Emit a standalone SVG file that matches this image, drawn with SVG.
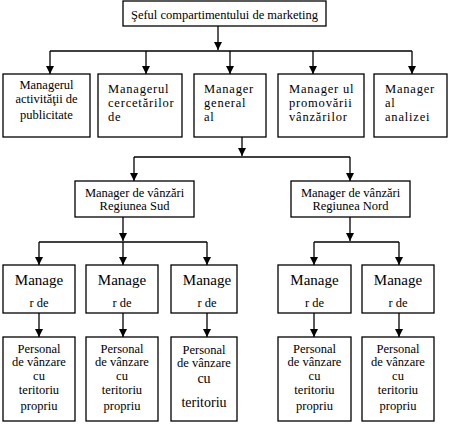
<svg xmlns="http://www.w3.org/2000/svg" width="450" height="425" viewBox="0 0 450 425">
<defs>
<marker id="ah" markerWidth="8" markerHeight="8" refX="8" refY="4" orient="auto" markerUnits="userSpaceOnUse">
<path d="M0,0 L8,4 L0,8 Z" fill="#000"/>
</marker>
<style>
rect{fill:#fff;stroke:#000;stroke-width:1.3}
text{font-family:'Liberation Serif', serif;font-size:12.5px;fill:#000}
.c{text-anchor:middle}
.w{letter-spacing:0.8px}
.big{font-size:15px}
.conn path{fill:none;stroke:#000;stroke-width:1.3}
.conn .a{marker-end:url(#ah)}
</style>
</defs>
<rect x="0" y="0" width="450" height="425" style="fill:#fff;stroke:none"/>
<g class="conn">
<path class="a" d="M218,26 V50"/>
<path d="M50,51 H412"/>
<path class="a" d="M50,51 V74"/>
<path class="a" d="M146,51 V74"/>
<path class="a" d="M230,51 V74"/>
<path class="a" d="M313,51 V74"/>
<path class="a" d="M412,51 V74"/>
<path class="a" d="M242,137 V156"/>
<path d="M134,157 H350"/>
<path class="a" d="M134,157 V181"/>
<path class="a" d="M350,157 V181"/>
<path class="a" d="M123,217 V241"/>
<path d="M39,242 H207"/>
<path class="a" d="M39,242 V265"/>
<path class="a" d="M123,242 V265"/>
<path class="a" d="M207,242 V265"/>
<path class="a" d="M350,217 V241"/>
<path d="M314,242 H399"/>
<path class="a" d="M314,242 V265"/>
<path class="a" d="M399,242 V265"/>
<path class="a" d="M39,313 V337"/>
<path class="a" d="M123,313 V337"/>
<path class="a" d="M207,313 V337"/>
<path class="a" d="M314,313 V337"/>
<path class="a" d="M399,313 V337"/>
</g>
<g id="sef"><rect x="123" y="1" width="203" height="25"/><text class="c" x="224.5" y="19">Şeful compartimentului de marketing</text></g>
<g id="m1"><rect x="3" y="74" width="87" height="63"/><text class="c" x="46.5" y="89">Managerul</text><text class="c" x="46.5" y="103">activităţii de</text><text class="c" x="46.5" y="119">publicitate</text></g>
<g id="m2"><rect x="98" y="74" width="84" height="63"/><text class="w" x="108" y="93">Managerul</text><text class="w" x="108" y="107">cercetărilor</text><text class="w" x="108" y="121">de</text></g>
<g id="m3"><rect x="194" y="74" width="72" height="63"/><text class="w" x="204" y="93">Manager</text><text class="w" x="204" y="107">general</text><text class="w" x="204" y="121">al</text></g>
<g id="m4"><rect x="278" y="74" width="86" height="63"/><text class="w" x="289" y="93">Manager ul</text><text class="w" x="289" y="107">promovării</text><text class="w" x="289" y="121">vânzărilor</text></g>
<g id="m5"><rect x="374" y="74" width="73" height="63"/><text class="w" x="385" y="93">Manager</text><text class="w" x="385" y="107">al</text><text class="w" x="385" y="121">analizei</text></g>
<g id="sud"><rect x="75" y="181" width="119" height="36"/><text class="c" x="134.5" y="197">Manager de vânzări</text><text class="c" x="134.5" y="210">Regiunea Sud</text></g>
<g id="nord"><rect x="291" y="181" width="119" height="36"/><text class="c" x="350.5" y="197">Manager de vânzări</text><text class="c" x="350.5" y="210">Regiunea Nord</text></g>
<g id="r1"><rect x="3" y="265" width="72" height="48"/><text class="c big" x="39" y="285">Manage</text><text class="c" x="39" y="307">r de</text></g>
<g id="r2"><rect x="86" y="265" width="72" height="48"/><text class="c big" x="122" y="285">Manage</text><text class="c" x="122" y="307">r de</text></g>
<g id="r3"><rect x="171" y="265" width="66" height="48"/><text class="c big" x="207" y="285">Manage</text><text class="c" x="207" y="307">r de</text></g>
<g id="r4"><rect x="278" y="265" width="73" height="48"/><text class="c big" x="314.5" y="285">Manage</text><text class="c" x="314.5" y="307">r de</text></g>
<g id="r5"><rect x="362" y="265" width="72" height="48"/><text class="c big" x="398" y="285">Manage</text><text class="c" x="398" y="307">r de</text></g>
<g id="p1"><rect x="3" y="337" width="72" height="84"/><text class="c" x="39" y="353">Personal</text><text class="c" x="39" y="366">de vânzare</text><text class="c" x="39" y="380">cu</text><text class="c" x="39" y="394">teritoriu</text><text class="c" x="39" y="410">propriu</text></g>
<g id="p2"><rect x="86" y="337" width="72" height="84"/><text class="c" x="122" y="353">Personal</text><text class="c" x="122" y="366">de vânzare</text><text class="c" x="122" y="380">cu</text><text class="c" x="122" y="394">teritoriu</text><text class="c" x="122" y="410">propriu</text></g>
<g id="p3"><rect x="171" y="337" width="66" height="84"/><text class="c" x="204" y="354">Personal</text><text class="c" x="204" y="367">de vânzare</text><text class="c" x="204" y="383" style="font-size:14px">cu</text><text class="c" x="204" y="407" style="font-size:14px">teritoriu</text></g>
<g id="p4"><rect x="278" y="337" width="73" height="84"/><text class="c" x="314.5" y="353">Personal</text><text class="c" x="314.5" y="366">de vânzare</text><text class="c" x="314.5" y="380">cu</text><text class="c" x="314.5" y="394">teritoriu</text><text class="c" x="314.5" y="410">propriu</text></g>
<g id="p5"><rect x="362" y="337" width="72" height="84"/><text class="c" x="398" y="353">Personal</text><text class="c" x="398" y="366">de vânzare</text><text class="c" x="398" y="380">cu</text><text class="c" x="398" y="394">teritoriu</text><text class="c" x="398" y="410">propriu</text></g>
</svg>
